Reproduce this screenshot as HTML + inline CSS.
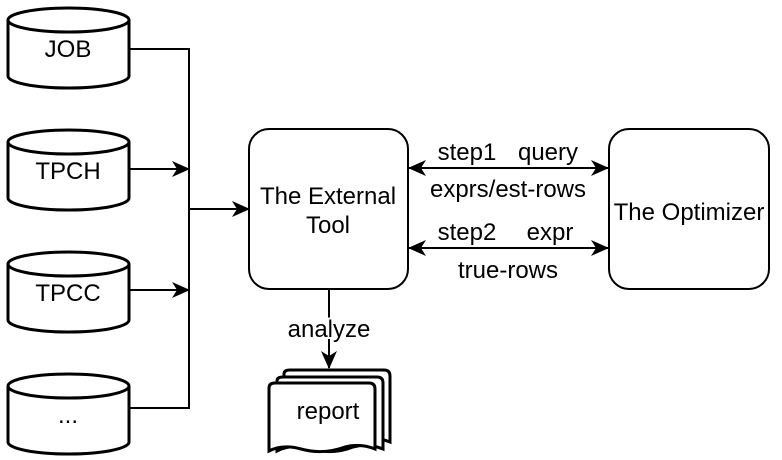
<!DOCTYPE html>
<html><head><style>body{margin:0;background:#fff}svg{display:block}text{font-family:"Liberation Sans",sans-serif;font-size:24px;fill:#000}</style></head>
<body>
<svg width="782" height="460" viewBox="0 0 782 460">
<defs>
<marker id="b" markerWidth="18" markerHeight="16" refX="17" refY="8" orient="auto-start-reverse" markerUnits="userSpaceOnUse" viewBox="0 0 18 16"><path d="M0,0 L18,8 L0,16 L5,8z" fill="#000"/></marker></defs>
<g fill="#fff" stroke="#000" stroke-width="3">
<g id="c"><path d="M8,20 v56 a60.5,12 0 0 0 121,0 v-56 a60.5,12 0 0 0 -121,0 a60.5,12 0 0 0 121,0"/></g>
<use href="#c" y="122"/><use href="#c" y="244"/><use href="#c" y="366"/>
</g>
<g fill="none" stroke="#000" stroke-width="2">
<polyline points="130,49 189,49 189,408 130,408"/>
<line x1="130" y1="169" x2="189" y2="169" marker-end="url(#b)"/>
<line x1="130" y1="290" x2="189" y2="290" marker-end="url(#b)"/>
<line x1="189" y1="209" x2="249" y2="209" marker-end="url(#b)"/>
<rect x="249" y="129" width="159" height="160" rx="20"/>
<rect x="609" y="129" width="160" height="160" rx="20"/>
<line x1="409" y1="168" x2="608" y2="168" marker-start="url(#b)" marker-end="url(#b)"/>
<line x1="409" y1="248" x2="608" y2="248" marker-start="url(#b)" marker-end="url(#b)"/>
<line x1="329" y1="289" x2="329" y2="368" marker-end="url(#b)"/>
</g>
<g fill="#fff" stroke="#000" stroke-width="3">
<path d="M284,374 q0,-4 6,-4 h94 q6,0 6,6 v66 q-15,-6 -30,-2 q-20,8 -40,2 q-20,-6 -36,2z"/>
<path d="M277,381 q0,-4 6,-4 h94 q6,0 6,6 v66 q-15,-6 -30,-2 q-20,8 -40,2 q-20,-6 -36,2z"/>
<path d="M269,388 q0,-5 6,-5 h94 q6,0 6,6 v60 q-15,-6 -30,-2 q-22,8 -44,2 q-18,-5 -32,2z"/>
</g>
<text x="68" y="57" text-anchor="middle">JOB</text>
<text x="68" y="179" text-anchor="middle">TPCH</text>
<text x="68" y="301" text-anchor="middle">TPCC</text>
<text x="68" y="423" text-anchor="middle">...</text>
<text x="328" y="204" text-anchor="middle">The External</text>
<text x="328" y="233" text-anchor="middle">Tool</text>
<text x="689" y="220" text-anchor="middle">The Optimizer</text>
<text x="467" y="160" text-anchor="middle">step1</text><text x="548" y="160" text-anchor="middle">query</text>
<text x="508" y="197" text-anchor="middle">exprs/est-rows</text>
<text x="467" y="240" text-anchor="middle">step2</text><text x="550" y="240" text-anchor="middle">expr</text>
<text x="508" y="278" text-anchor="middle">true-rows</text>
<text x="329" y="337" text-anchor="middle" style="paint-order:stroke" stroke="#fff" stroke-width="4">analyze</text>
<text x="328" y="419" text-anchor="middle">report</text>
</svg>
</body></html>
